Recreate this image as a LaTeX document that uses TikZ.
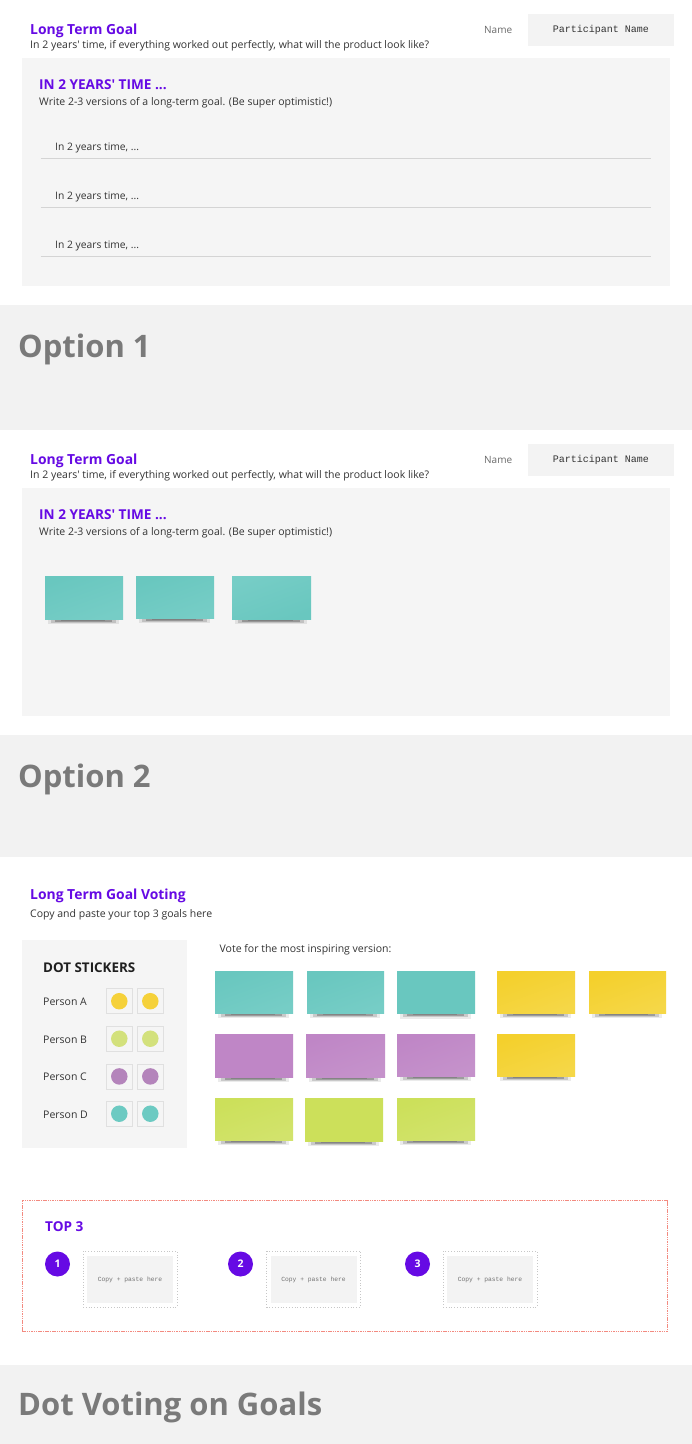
\documentclass[tikz,border=0pt]{standalone}
\usepackage{fontspec}
\setmainfont{Open Sans}[Ligatures=TeXOff]
\setmonofont{Liberation Mono}
\definecolor{purp}{RGB}{102,10,228}
\definecolor{bandfill}{HTML}{F2F2F2}
\definecolor{panelfill}{HTML}{F5F5F5}
\definecolor{bandtxt}{HTML}{7A7A7A}
\definecolor{bodytxt}{HTML}{333333}
\definecolor{nametxt}{HTML}{6A6A6A}
\definecolor{rulecol}{HTML}{D4D4D4}
\definecolor{boxfill}{HTML}{F3F3F3}
\definecolor{stTeal}{HTML}{69C7BF}
\definecolor{stTealL}{HTML}{76CDC6}
\definecolor{stPurple}{HTML}{BF86C6}
\definecolor{stPurpleL}{HTML}{C592CB}
\definecolor{stYellow}{HTML}{F4D02C}
\definecolor{stYellowL}{HTML}{F5D747}
\definecolor{stLime}{HTML}{CCE05A}
\definecolor{stLimeL}{HTML}{D2E36C}
\definecolor{dYellow}{HTML}{F5D13A}
\definecolor{dLime}{HTML}{D3E17C}
\definecolor{dPurple}{HTML}{B484BB}
\definecolor{dTeal}{HTML}{6CCAC2}
\definecolor{redline}{HTML}{F38A80}
\newcommand\fsz[1]{\fontsize{#1}{#1}\selectfont}
\newcommand\stickynote[6]{%
  \fill[black,opacity=.08] ({#1+3},{#4-1}) rectangle ({#2-4},{#4+5});
  \fill[black,opacity=.14] ({#1+6},{#4}) rectangle ({#2-7},{#4+3.8});
  \fill[black,opacity=.22] ({#1+10},{#4}) rectangle ({#2-11},{#4+2.6});
  \fill[black,opacity=.15] ({#1+16},{#4}) rectangle ({#2-18},{#4+1.8});
  \shade[top color=#5, bottom color=#6, shading angle=20] (#1,#3) rectangle (#2,#4);
}
\tikzset{
  title/.style={anchor=base west, inner sep=0, text=purp, font=\bfseries\fsz{13.9}},
  head/.style={anchor=base west, inner sep=0, text=purp, font=\bfseries\fsz{13.6}},
  sub/.style={anchor=base west, inner sep=0, text=bodytxt, font=\fsz{10.5}},
  small/.style={anchor=base west, inner sep=0, text=bodytxt, font=\fsz{10.3}},
  nm/.style={anchor=base west, inner sep=0, text=nametxt, font=\fsz{10}},
  pbox/.style={fill=boxfill, minimum width=146, minimum height=32, inner sep=0, font=\ttfamily\fsz{10}, text=bodytxt},
  bandtitle/.style={anchor=base west, inner sep=0, text=bandtxt, font=\bfseries\fsz{31}},
  dotbox/.style={draw=black!12, line width=0.6, fill=panelfill, minimum width=26, minimum height=25, inner sep=0},
  dot/.style={circle, minimum size=16.5, inner sep=0},
  numc/.style={circle, fill=purp, minimum size=25, inner sep=0, text=white, font=\bfseries\fsz{10.5}},
  pastebox/.style={fill=boxfill, minimum width=86, minimum height=47, inner sep=0, text=black!55, font=\ttfamily\fsz{6.3}},
}
\begin{document}
\begin{tikzpicture}[x=1pt,y=-1pt]
\useasboundingbox (0,0) rectangle (692,1444);
\fill[white] (0,0) rectangle (692,1444);

% ---- Sections with header (original + option 2) ----
\foreach \o/\s in {0/a,430/b}{
  \node[title] (ltg\s) at (30,34+\o) {Long Term Goal};
  \node[sub] (ltgsub\s) at (30,48.5+\o) {In 2 years' time, if everything worked out perfectly, what will the product look like?};
  \node[nm] (name\s) at (484,33.7+\o) {Name};
  \node[pbox] (pn\s) at (601,30+\o) {Participant Name};
  \fill[panelfill] (22,58+\o) rectangle (670,286+\o);
  \node[head] (yrs\s) at (39,89+\o) {IN 2 YEARS' TIME ...};
  \node[sub] (wr\s) at (39,105+\o) {Write 2-3 versions of a long-term goal. (Be super optimistic!)};
}

% lines in section 1
\foreach \y/\i in {150.7/1,199.7/2,248.7/3}{
  \node[small] (line\i) at (55,\y) {In 2 years time, ...};
  \draw[rulecol, line width=0.9] (40.5,\y+7.6) -- (651,\y+7.6);
}

% Option 1 band
\fill[bandfill] (0,305) rectangle (692,430);
\node[bandtitle] (opt1) at (18,357) {Option 1};

% sticky notes in section 2
\stickynote{45}{123}{576}{619}{stTeal}{stTealL}
\stickynote{136}{214}{576}{618}{stTeal}{stTealL}
\stickynote{232}{311}{576}{619}{stTealL}{stTeal}

% Option 2 band
\fill[bandfill] (0,735) rectangle (692,857);
\node[bandtitle] (opt2) at (18,787) {Option 2};

% ---- Voting section ----
\node[title] (ltgv) at (30,899) {Long Term Goal Voting};
\node[sub] (copy) at (30,917.7) {Copy and paste your top 3 goals here};
\fill[panelfill] (22,940) rectangle (187,1148);
\node[anchor=base west, inner sep=0, text=black!88, font=\bfseries\fsz{13.4}] (dots) at (43,972.3) {DOT STICKERS};
\foreach \y/\p/\c/\i in {1001.2/A/dYellow/1,1038.7/B/dLime/2,1076.4/C/dPurple/3,1113.7/D/dTeal/4}{
  \node[sub] (per\i) at (43,\y+4.5) {Person \p};
  \node[dotbox] (bx\i a) at (119.3,\y) {};
  \node[dotbox] (bx\i b) at (150.3,\y) {};
  \node[dot, fill=\c] (dt\i a) at (bx\i a) {};
  \node[dot, fill=\c] (dt\i b) at (bx\i b) {};
}
\node[sub] (vote) at (219.5,952.3) {Vote for the most inspiring version:};

% voting sticky grid
\stickynote{215}{293}{971}{1013}{stTeal}{stTealL}
\stickynote{307}{384}{971}{1013}{stTeal}{stTealL}
\stickynote{397}{475}{971}{1013.5}{stTeal}{stTeal}
\stickynote{497}{575}{971}{1013}{stYellow}{stYellowL}
\stickynote{589}{666}{971}{1013}{stYellow}{stYellowL}
\stickynote{215}{293}{1034}{1077}{stPurple}{stPurple}
\stickynote{306}{385}{1034}{1077}{stPurple}{stPurpleL}
\stickynote{397}{475}{1034}{1076}{stPurple}{stPurpleL}
\stickynote{497}{575}{1034}{1076}{stYellow}{stYellowL}
\stickynote{215}{293}{1098}{1140}{stLime}{stLimeL}
\stickynote{305}{383}{1098}{1141}{stLime}{stLime}
\stickynote{397}{475}{1098}{1140}{stLime}{stLimeL}

% ---- Top 3 ----
\draw[draw=redline, line width=0.9, dash pattern=on 1.5pt off 0.8pt] (22,1200.5) rectangle (667,1331.5);
\node[head] (top3) at (45,1231) {TOP 3};
\foreach \cx/\bx/\n in {57.5/83/1,240.5/266.5/2,417.5/443/3}{
  \node[numc] (num\n) at (\cx,1264) {\n};
  \draw[black!22, line width=0.8, dotted] (\bx,1251) rectangle (\bx+94,1307);
  \node[pastebox] (paste\n) at (\bx+47,1279.5) {Copy + paste here};
}

% Dot voting band
\fill[bandfill] (0,1365) rectangle (692,1444);
\node[bandtitle] (dvg) at (18,1415) {Dot Voting on Goals};
\end{tikzpicture}
\end{document}
